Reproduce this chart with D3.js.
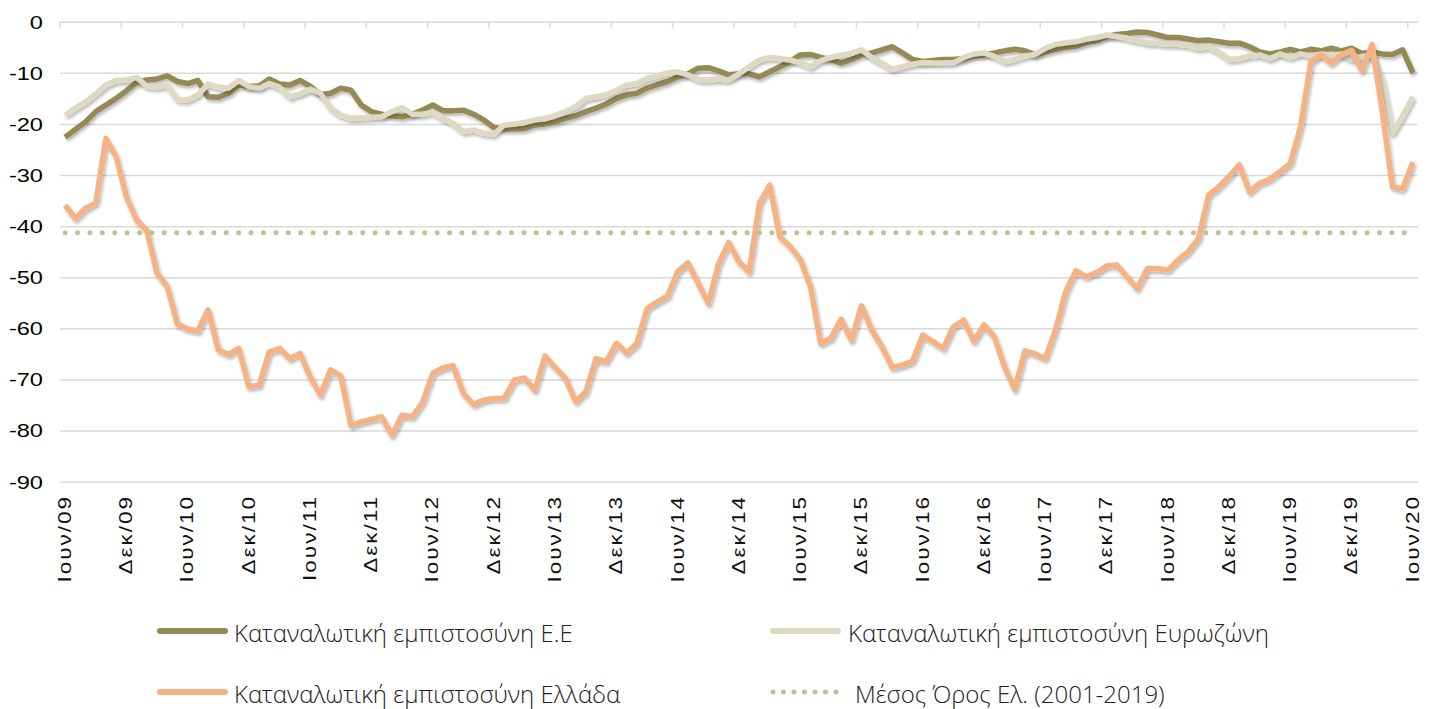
<!DOCTYPE html>
<html>
<head>
<meta charset="utf-8">
<script src="https://cdn.jsdelivr.net/npm/d3@7"></script>
<style>
  html, body { margin: 0; padding: 0; background: #fff; }
  svg { display: block; }
</style>
</head>
<body>
<svg id="chart" width="1429" height="709"></svg>
<script>
// months Ιουν/09 .. Ιουν/20
const monthNames = ["Ιαν", "Φεβ", "Μαρ", "Απρ", "Μαϊ", "Ιουν", "Ιουλ", "Αυγ", "Σεπ", "Οκτ", "Νοε", "Δεκ"];
const categories = [];
for (let k = 0; k < 133; k++) {
    const m = (5 + k) % 12, yr = 9 + Math.floor((5 + k) / 12);
    categories.push(monthNames[m] + "/" + String(yr).padStart(2, "0"));
}
const tickLabels = ["Ιουν/09", "Δεκ/09", "Ιουν/10", "Δεκ/10", "Ιουν/11", "Δεκ/11", "Ιουν/12", "Δεκ/12",
    "Ιουν/13", "Δεκ/13", "Ιουν/14", "Δεκ/14", "Ιουν/15", "Δεκ/15", "Ιουν/16", "Δεκ/16", "Ιουν/17",
    "Δεκ/17", "Ιουν/18", "Δεκ/18", "Ιουν/19", "Δεκ/19", "Ιουν/20"];
const yTicks = [0, -10, -20, -30, -40, -50, -60, -70, -80, -90];

const euValues = [
    -22.6, -21.1, -19.6, -17.6, -16.3, -15.0, -13.5, -11.9, -11.4, -11.2, -10.6, -11.7,
    -12.1, -11.5, -14.7, -14.8, -14.0, -12.4, -12.7, -12.6, -11.2, -12.2, -12.4, -11.5,
    -12.6, -14.3, -14.0, -13.0, -13.4, -16.3, -17.6, -18.1, -18.4, -18.6, -18.1, -17.3,
    -16.3, -17.4, -17.4, -17.3, -18.1, -19.2, -20.7, -21.0, -21.0, -20.9, -20.2, -20.0,
    -19.6, -18.9, -18.4, -17.6, -16.9, -16.1, -15.0, -14.3, -14.0, -13.0, -12.3, -11.7,
    -10.8, -10.2, -9.1, -9.0, -9.6, -10.4, -10.2, -10.2, -10.8, -9.8, -8.8, -7.8,
    -6.5, -6.4, -7.0, -7.4, -8.1, -7.4, -6.5, -6.1, -5.5, -4.9, -6.1, -7.4,
    -7.8, -7.6, -7.4, -7.4, -7.2, -6.7, -6.5, -6.1, -5.7, -5.4, -5.7, -6.5,
    -5.9, -5.4, -5.0, -4.8, -4.1, -3.7, -2.9, -2.5, -2.3, -2.0, -2.1, -2.6,
    -3.1, -3.1, -3.4, -3.7, -3.6, -3.9, -4.2, -4.2, -4.9, -5.9, -6.3, -5.9,
    -5.4, -5.9, -5.4, -5.7, -5.2, -5.7, -5.2, -6.2, -5.9, -6.3, -6.4, -5.5,
    -10.0
];
const euroValues = [
    -18.3, -16.9, -15.7, -14.1, -12.4, -11.5, -11.4, -10.9, -12.6, -12.8, -12.4, -15.2,
    -15.3, -14.3, -12.2, -12.8, -13.0, -11.5, -12.7, -13.0, -12.1, -12.8, -14.7, -14.1,
    -13.2, -14.0, -16.9, -18.3, -18.9, -18.8, -18.7, -18.6, -17.6, -16.8, -18.1, -18.1,
    -17.7, -18.9, -19.9, -21.5, -21.2, -21.8, -22.0, -20.2, -20.0, -19.7, -19.2, -19.0,
    -18.3, -17.6, -16.6, -15.0, -14.7, -14.3, -13.4, -12.4, -12.1, -11.1, -10.6, -10.0,
    -9.8, -10.4, -11.3, -11.4, -11.2, -11.4, -10.2, -8.8, -7.5, -7.0, -7.2, -7.5,
    -8.0, -8.8, -7.6, -7.0, -6.5, -6.2, -5.5, -7.0, -8.1, -9.3, -8.8, -8.3,
    -8.0, -8.1, -8.1, -8.0, -7.0, -6.3, -6.1, -6.8, -7.8, -7.4, -6.7, -6.4,
    -5.2, -4.4, -4.1, -3.9, -3.4, -3.1, -2.6, -2.9, -3.2, -3.7, -4.1, -4.2,
    -4.4, -4.4, -4.6, -5.2, -4.9, -5.9, -7.4, -7.2, -6.7, -6.5, -7.2, -6.3,
    -7.0, -6.3, -6.7, -6.3, -6.5, -6.3, -7.4, -6.8, -6.5, -11.6, -21.8, -18.4,
    -14.7
];
const greeceValues = [
    -35.9, -38.5, -36.5, -35.5, -22.8, -26.4, -34.2, -38.8, -40.8, -49.2, -51.8, -59.2,
    -60.1, -60.5, -56.4, -64.2, -65.1, -63.9, -71.4, -71.1, -64.6, -63.9, -65.9, -64.9,
    -69.5, -73.0, -68.1, -69.3, -79.0, -78.3, -77.8, -77.3, -80.9, -77.0, -77.3, -74.5,
    -68.8, -67.7, -67.3, -72.7, -74.9, -74.0, -73.7, -73.7, -70.1, -69.7, -72.1, -65.4,
    -67.7, -69.8, -74.3, -72.4, -65.9, -66.5, -62.9, -64.8, -62.9, -56.1, -54.8, -53.7,
    -48.9, -47.2, -51.2, -55.1, -47.3, -43.2, -47.0, -48.9, -35.5, -32.0, -42.1, -44.0,
    -46.5, -51.8, -62.9, -61.9, -58.2, -62.3, -55.6, -60.3, -63.6, -67.6, -67.2, -66.4,
    -61.3, -62.6, -63.9, -59.7, -58.4, -62.5, -59.3, -61.6, -67.5, -71.9, -64.4, -65.0,
    -65.9, -60.3, -52.8, -48.7, -49.9, -49.1, -47.8, -47.6, -49.9, -52.2, -48.3, -48.3,
    -48.6, -46.6, -45.0, -42.4, -33.9, -32.3, -30.3, -28.0, -33.3, -31.6, -30.8, -29.3,
    -27.7, -20.5, -7.8, -6.5, -8.1, -6.5, -5.6, -9.6, -4.5, -17.5, -32.3, -32.7,
    -27.5
];
const greeceMean = -41.3;

const seriesNames = ["Καταναλωτική εμπιστοσύνη Ε.Ε", "Καταναλωτική εμπιστοσύνη Ευρωζώνη",
    "Καταναλωτική εμπιστοσύνη Ελλάδα", "Μέσος Όρος Ελ. (2001-2019)"];
const colors = ["#948a54", "#ddd9c3", "#f5b284", "#c4bd97"];

const plotLeft = 60, plotRight = 1418, plotTop = 21.7, plotBottom = 481.7;
const svg = d3.select("#chart");

const x = d3.scaleBand().domain(categories).range([plotLeft, plotRight]).padding(0);
const y = d3.scaleLinear().domain([-90, 0]).range([plotBottom, plotTop]);
const cx = d => x(d) + x.bandwidth() / 2;

// shadow under the lines
svg.append("defs").append("filter")
    .attr("id", "shadow")
    .attr("x", "-5%").attr("y", "-10%").attr("width", "110%").attr("height", "130%")
    .append("feDropShadow")
    .attr("dx", 1.5).attr("dy", 2.5).attr("stdDeviation", 1.6)
    .attr("flood-color", "#000").attr("flood-opacity", 0.28);

// gridlines + y labels
const yAxis = svg.append("g")
    .attr("transform", `translate(${plotLeft},0)`)
    .call(d3.axisLeft(y).tickValues(yTicks).tickSize(-(plotRight - plotLeft)).tickFormat(d => d));
yAxis.select(".domain").remove();
yAxis.selectAll(".tick line").attr("stroke", "#d9d9d9").attr("stroke-width", 1.5);
yAxis.selectAll(".tick text")
    .attr("x", null)
    .attr("transform", "translate(-17,0) scale(1.35,1)")
    .attr("dy", "0.36em")
    .attr("text-anchor", "end")
    .attr("fill", "#000")
    .attr("font-family", "'Liberation Sans', Arial, sans-serif")
    .attr("font-size", 17.5);

// x tick marks hanging from the 0 line, at category boundaries
const tickCats = categories.filter((d, i) => i % 6 === 0);
const xAxis = svg.append("g")
    .attr("transform", `translate(${-x.bandwidth() / 2},${y(0)})`)
    .call(d3.axisBottom(x).tickValues(tickCats).tickSize(6).tickFormat(""));
xAxis.select(".domain").remove();
xAxis.selectAll(".tick line").attr("stroke", "#d9d9d9").attr("stroke-width", 1.5);

// rotated x labels
svg.append("g").selectAll("text")
    .data(tickCats)
    .join("text")
    .attr("transform", d => `translate(${cx(d)},495) rotate(-90) scale(1.25,1)`)
    .attr("text-anchor", "end")
    .attr("dy", "0.32em")
    .attr("letter-spacing", 1.6)
    .attr("font-family", "'Liberation Sans', Arial, sans-serif")
    .attr("font-size", 18)
    .attr("fill", "#111")
    .text((d, i) => tickLabels[i]);

// lines
const line = d3.line()
    .x((d, i) => cx(categories[i]))
    .y(d => y(d));
[euValues, euroValues, greeceValues].forEach((vals, k) => {
    svg.append("path")
        .datum(vals)
        .attr("d", line)
        .attr("fill", "none")
        .attr("stroke", colors[k])
        .attr("stroke-width", 5.5)
        .attr("stroke-linejoin", "round")
        .attr("filter", "url(#shadow)");
});
// mean, dotted
svg.append("path")
    .datum(categories.map(() => greeceMean))
    .attr("d", line)
    .attr("fill", "none")
    .attr("stroke", colors[3])
    .attr("stroke-width", 5)
    .attr("stroke-linecap", "round")
    .attr("stroke-dasharray", "0 12.4");

// legend
const legendItems = [
    {x: 160, y: 631, tx: 234},
    {x: 773, y: 631, tx: 848},
    {x: 160, y: 692, tx: 234},
    {x: 773, y: 692, tx: 855}
];
const legend = svg.append("g");
legendItems.forEach((p, k) => {
    legend.append("line")
        .attr("x1", p.x).attr("x2", p.x + 65)
        .attr("y1", p.y).attr("y2", p.y)
        .attr("stroke", colors[k])
        .attr("stroke-width", k === 3 ? 5 : 6)
        .attr("stroke-linecap", "round")
        .attr("stroke-dasharray", k === 3 ? "0 10.5" : null);
    legend.append("text")
        .attr("x", p.tx).attr("y", p.y + 11)
        .attr("font-family", "'Open Sans', 'Noto Sans', sans-serif")
        .attr("font-weight", 300)
        .attr("font-size", 24)
        .attr("fill", "#222")
        .text(seriesNames[k]);
});
</script>
</body>
</html>
